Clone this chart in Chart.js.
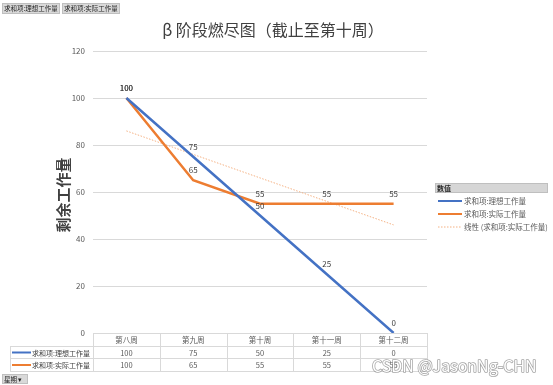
<!DOCTYPE html>
<html>
<head>
<meta charset="utf-8">
<script src="https://cdn.jsdelivr.net/npm/chart.js@4"></script>
<style>
  html, body { margin: 0; padding: 0; background: #fff; }
  #wrap { width: 553px; height: 385px; position: relative; }
</style>
</head>
<body>
<div id="wrap"><canvas id="burnChart" width="553" height="385"></canvas></div>
<script>
// data
const weeks = ["第八周", "第九周", "第十周", "第十一周", "第十二周"];
const idealWork = [100, 75, 50, 25, 0];
const actualWork = [100, 65, 55, 55, 55];
const actualTrend = [86, 76, 66, 56, 46];
const yTicks = [0, 20, 40, 60, 80, 100, 120];

const SANS = '"Noto Sans CJK SC", "Noto Sans", sans-serif';
const BLUE = "#4472c4";
const ORANGE = "#ed7d31";
const TREND = "#f4b183";
const GRID = "#d9d9d9";

// everything Excel draws around the plot: titles, legend, data table, buttons
const decorPlugin = {
  id: "decor",
  afterDatasetsDraw(chart) {
    const ctx = chart.ctx;
    ctx.save();
    ctx.font = "8px " + SANS;
    ctx.fillStyle = "#404040";
    ctx.textAlign = "center";
    ctx.textBaseline = "middle";
    [0, 1].forEach(function (di) {
      const meta = chart.getDatasetMeta(di);
      meta.data.forEach(function (pt, i) {
        ctx.fillText(String(chart.data.datasets[di].data[i]), pt.x, pt.y - 10);
      });
    });
    ctx.restore();
  },
  afterDraw(chart) {
    const ctx = chart.ctx;
    const area = chart.chartArea;
    const xs = chart.scales.x;
    ctx.save();

    // chart title
    ctx.fillStyle = "#404040";
    ctx.textAlign = "center";
    ctx.textBaseline = "middle";
    ctx.font = "16px " + SANS;
    ctx.fillText("β 阶段燃尽图（截止至第十周）", 273, 30);

    // y axis title
    ctx.save();
    ctx.translate(63, 195);
    ctx.rotate(-Math.PI / 2);
    ctx.font = "600 15px " + SANS;
    ctx.fillStyle = "#404040";
    ctx.fillText("剩余工作量", 0, 0);
    ctx.restore();

    // data table under the plot
    const colW = xs.getPixelForValue(1) - xs.getPixelForValue(0);
    const rows = [333, 346, 358, 371];
    const labLeft = 10;
    ctx.strokeStyle = GRID;
    ctx.lineWidth = 1;
    ctx.beginPath();
    rows.forEach(function (y, r) {
      const x0 = r === 0 ? area.left : labLeft;
      ctx.moveTo(x0, y + 0.5);
      ctx.lineTo(area.right, y + 0.5);
    });
    ctx.moveTo(labLeft + 0.5, rows[1]);
    ctx.lineTo(labLeft + 0.5, rows[3]);
    for (let i = 0; i <= weeks.length; i++) {
      const x = Math.round(area.left + i * colW) + 0.5;
      ctx.moveTo(x, rows[0]);
      ctx.lineTo(x, rows[3]);
    }
    ctx.stroke();

    ctx.font = "7.5px " + SANS;
    ctx.fillStyle = "#595959";
    weeks.forEach(function (w, i) {
      const cx = xs.getPixelForValue(i);
      ctx.fillText(w, cx, (rows[0] + rows[1]) / 2 + 1);
      ctx.fillText(String(idealWork[i]), cx, (rows[1] + rows[2]) / 2 + 1);
      ctx.fillText(String(actualWork[i]), cx, (rows[2] + rows[3]) / 2 + 1);
    });
    const rowNames = [["求和项:理想工作量", BLUE], ["求和项:实际工作量", ORANGE]];
    ctx.textAlign = "left";
    ctx.font = "7px " + SANS;
    rowNames.forEach(function (rn, r) {
      const cy = (rows[r + 1] + rows[r + 2]) / 2 + 0.5;
      ctx.strokeStyle = rn[1];
      ctx.lineWidth = 2;
      ctx.beginPath();
      ctx.moveTo(12, cy);
      ctx.lineTo(31, cy);
      ctx.stroke();
      ctx.fillStyle = "#404040";
      ctx.fillText(rn[0], 32, cy + 0.5);
    });

    // legend on the right
    ctx.fillStyle = "#d6d6d6";
    ctx.fillRect(435, 183, 113, 10);
    ctx.strokeStyle = "#bfbfbf";
    ctx.lineWidth = 1;
    ctx.strokeRect(435.5, 183.5, 112, 9);
    ctx.fillStyle = "#262626";
    ctx.font = "bold 7px " + SANS;
    ctx.fillText("数值", 437, 188.5);
    const legendItems = [
      ["求和项:理想工作量", BLUE, 2, []],
      ["求和项:实际工作量", ORANGE, 2, []],
      ["线性 (求和项:实际工作量)", TREND, 1, [1.5, 1.5]]
    ];
    ctx.font = "7.5px " + SANS;
    legendItems.forEach(function (it, i) {
      const y = 201 + i * 13;
      ctx.strokeStyle = it[1];
      ctx.lineWidth = it[2];
      ctx.setLineDash(it[3]);
      ctx.beginPath();
      ctx.moveTo(438, y);
      ctx.lineTo(462, y);
      ctx.stroke();
      ctx.setLineDash([]);
      ctx.fillStyle = "#595959";
      ctx.fillText(it[0], 464, y + 0.5);
    });

    // pivot field buttons
    function button(x, y, w, h, text) {
      ctx.fillStyle = "#d9d9d9";
      ctx.fillRect(x, y, w, h);
      ctx.strokeStyle = "#bfbfbf";
      ctx.strokeRect(x + 0.5, y + 0.5, w - 1, h - 1);
      ctx.fillStyle = "#262626";
      ctx.font = "6.5px " + SANS;
      ctx.textAlign = "left";
      ctx.fillText(text, x + 2, y + h / 2 + 0.5);
    }
    button(2, 3, 58, 11, "求和项:理想工作量");
    button(62, 3, 58, 11, "求和项:实际工作量");
    button(2, 374, 26, 10, "星期 ▾");

    // watermark
    ctx.font = "16px " + SANS;
    ctx.textAlign = "left";
    ctx.lineJoin = "round";
    ctx.strokeStyle = "rgba(90,90,90,0.55)";
    ctx.lineWidth = 1.6;
    ctx.strokeText("CSDN @JasonNg-CHN", 372, 366);
    ctx.fillStyle = "#ffffff";
    ctx.fillText("CSDN @JasonNg-CHN", 372, 366);
    ctx.restore();
  }
};

new Chart(document.getElementById("burnChart"), {
  type: "line",
  data: {
    labels: weeks,
    datasets: [
      {
        label: "求和项:理想工作量",
        data: idealWork,
        borderColor: BLUE,
        borderWidth: 2.5,
        pointRadius: 0,
        tension: 0
      },
      {
        label: "求和项:实际工作量",
        data: actualWork,
        borderColor: ORANGE,
        borderWidth: 2.5,
        pointRadius: 0,
        tension: 0
      },
      {
        label: "线性 (求和项:实际工作量)",
        data: actualTrend,
        borderColor: TREND,
        borderWidth: 1,
        borderDash: [1.5, 1.5],
        pointRadius: 0,
        tension: 0
      }
    ]
  },
  options: {
    responsive: false,
    animation: false,
    layout: { padding: { left: 0, right: 126, top: 51, bottom: 52 } },
    plugins: {
      legend: { display: false },
      tooltip: { enabled: false }
    },
    scales: {
      x: { display: false, offset: true },
      y: {
        min: 0,
        max: 120,
        afterBuildTicks: function (s) { s.ticks = yTicks.map(v => ({ value: v })); },
        afterFit: function (s) { s.width = 93; },
        border: { display: false },
        grid: { color: GRID, drawTicks: false },
        ticks: { color: "#595959", padding: 8, font: { size: 8, family: SANS } }
      }
    }
  },
  plugins: [decorPlugin]
});
</script>
</body>
</html>
